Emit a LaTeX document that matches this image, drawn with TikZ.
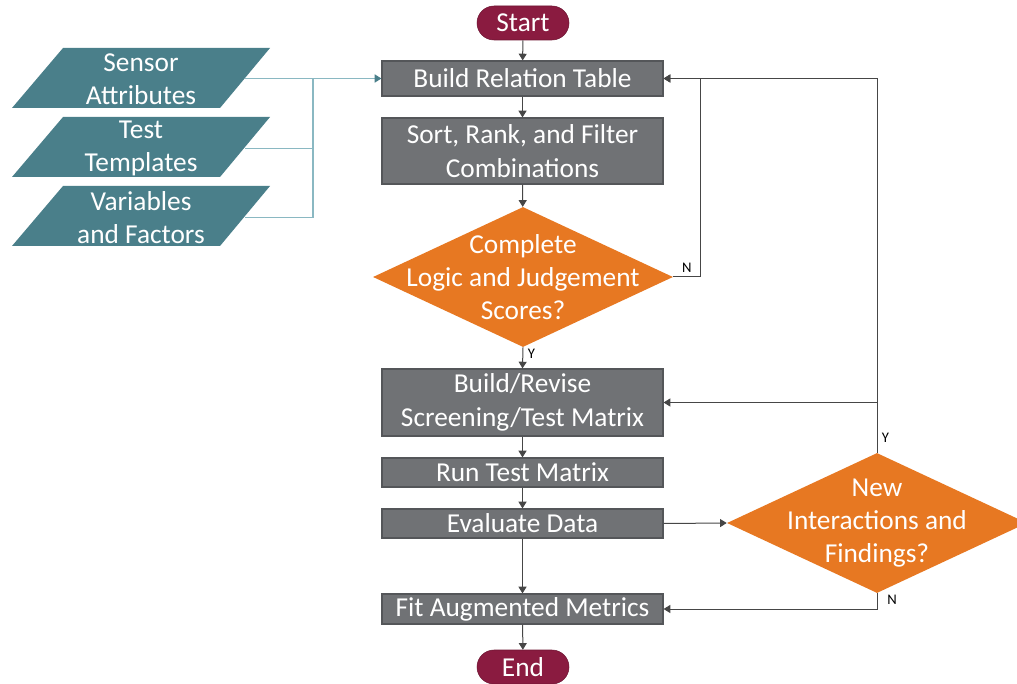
\documentclass[tikz,border=0pt]{standalone}
\usepackage{fontspec}
\setmainfont{Carlito}
\usetikzlibrary{shapes.geometric,arrows.meta}

\definecolor{boxgray}{RGB}{112,114,117}
\definecolor{boxedge}{RGB}{84,86,89}
\definecolor{termred}{RGB}{138,27,64}
\definecolor{decorange}{RGB}{231,120,34}
\definecolor{inteal}{RGB}{74,127,138}
\definecolor{inline}{RGB}{138,184,194}
\definecolor{flowline}{RGB}{70,70,70}

\tikzset{
  boxfont/.style={font=\fontsize{20.5}{25}\selectfont},
  process/.style={boxfont,draw=boxedge,line width=0.9pt,fill=boxgray,text=white,
    minimum width=210.75pt,inner sep=0pt,align=center},
  terminal/.style={boxfont,fill=termred,draw=termred!80!black,text=white,
    rounded corners=12.75pt,minimum width=69pt,minimum height=25.5pt,inner sep=0pt},
  decision/.style={diamond,fill=decorange,minimum width=225pt,minimum height=105pt,
    inner sep=0pt},
  dectext/.style={boxfont,text=white,align=center},
  intext/.style={boxfont,text=white,align=center,minimum width=156pt,
    minimum height=45pt,inner sep=0pt},
  yn/.style={font=\fontsize{11}{13}\selectfont,text=black},
  flow/.style={draw=flowline,line width=0.75pt,-{Triangle[length=5pt,width=6pt]}},
  feed/.style={draw=inline,line width=1pt},
}

\begin{document}
\begin{tikzpicture}[x=0.75pt,y=-0.75pt]
    \useasboundingbox (0,0) rectangle (1017,684);
    %% main column
    \node[terminal] (start) at (523,23) {Start};
    \node[process,minimum height=26.25pt] (rel) at (522.5,78.5) {Build Relation Table};
    \node[process,minimum height=49.5pt] (sort) at (522.5,151) {Sort, Rank, and Filter\\Combinations};
    \node[decision,label={[dectext]center:Complete\\Logic and Judgement\\Scores?}] (logic) at (523,277) {};
    \node[process,minimum height=50.25pt] (rev) at (522.5,402.5) {Build/Revise\\Screening/Test Matrix};
    \node[process,minimum height=21.75pt] (run) at (522.5,472.5) {Run Test Matrix};
    \node[process,minimum height=21.75pt] (eval) at (522.5,523.5) {Evaluate Data};
    \node[process,minimum height=22.5pt] (fit) at (522.5,609) {Fit Augmented Metrics};
    \node[terminal] (end) at (523,667) {End};
    %% second decision
    \node[decision,label={[dectext]center:New\\Interactions and\\Findings?}] (news) at (877,523) {};
    %% inputs (slanted boxes)
    \foreach \nm/\yy/\txt in {sensor/78/{Sensor\\Attributes},
                              tmpl/147/{Test\\Templates},
                              vars/216/{Variables\\and Factors}} {
      \fill[inteal] (12,\yy+30) -- (220,\yy+30) -- (270,\yy-30) -- (63,\yy-30) -- cycle;
      \node[intext] (\nm) at (141,\yy+1.5) {\txt};
    }
    \coordinate (join) at (313,78);

    %% input feeds
    \draw[feed,-{Triangle[length=5pt,width=6pt,color=inteal]}] (sensor.east |- rel.west) -- (rel.west);
    \draw[feed] (tmpl.east) -| (join);
    \draw[feed] (vars.east) -| (join);

    %% straight flow
    \draw[flow] (start) -- (rel);
    \draw[flow] (rel) -- (sort);
    \draw[flow] (sort) -- (logic);
    \draw[flow] (logic.south) -- node[yn,pos=0.32,right]{Y} (rev.north);
    \draw[flow] (rev) -- (run);
    \draw[flow] (run) -- (eval);
    \draw[flow] (eval) -- (fit);
    \draw[flow] (fit) -- (end);
    \draw[flow] (eval.east) -- (news.west);

    %% loops back
    \draw[flow] (logic.east) -- node[yn,above]{N} ++(27,0) |- (rel.east);
    \draw[flow] (news.north) |- node[yn,pos=0.02,right]{Y} (rel.east);
    \draw[flow] (news.north) |- (rev.east);
    \draw[flow] (news.south) |- node[yn,pos=0.2,right,xshift=4pt]{N} (fit.east);
\end{tikzpicture}
\end{document}
